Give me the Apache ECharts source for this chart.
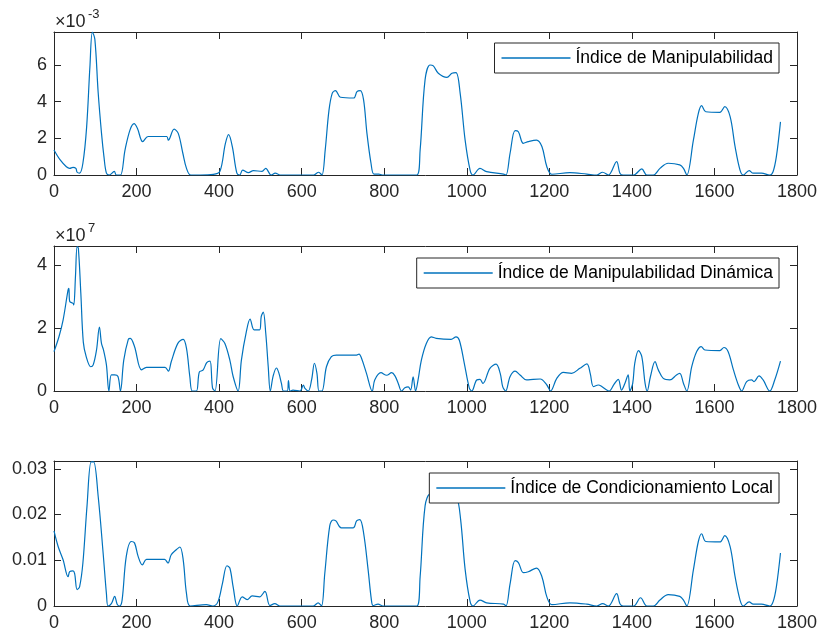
<!DOCTYPE html>
<html>
<head>
<meta charset="utf-8">
<script src="https://cdn.jsdelivr.net/npm/echarts@6/dist/echarts.min.js"></script>
<style>
html,body{margin:0;padding:0;background:#fff;}
#chart{width:822px;height:636px;}
</style>
</head>
<body>
<div id="chart"></div>
<script>
// ---- data ----
const xTicks = [0, 200, 400, 600, 800, 1000, 1200, 1400, 1600, 1800];
const seriesNames = ['Índice de Manipulabilidad', 'Índice de Manipulabilidad Dinámica', 'Índice de Condicionamiento Local'];
const exponentLabels = ['-3', '7', null];
const yTicks1 = [0, 2, 4, 6];
const yTicks2 = [0, 2, 4];
const yTicks3 = [0, 0.01, 0.02, 0.03];

// Índice de Manipulabilidad (values ×10^-3)
const manipData = [[0,1.36],[14,0.85],[30,0.45],[38,0.36],[46,0.42],[53,0.36],[56,0.15],[62,0.1],[70,0.64],[79,2.6],[87,5.9],[93,7.8],[99,7.4],[107,4.5],[115,2.3],[121,1.0],[127,0.1],[134,0],[146,0.2],[151,0],[161,0],[172,1.36],[184,2.45],[194,2.8],[202,2.55],[215,1.82],[228,2.1],[273,2.1],[277,1.9],[291,2.5],[301,2.27],[312,1.2],[321,0.36],[331,0],[354,0],[386,0.03],[402,0.2],[415,1.7],[423,2.2],[432,1.55],[443,0.1],[450,0],[457,0.27],[471,0.13],[483,0.24],[504,0.2],[513,0.36],[526,0],[536,0.1],[548,0],[629,0],[641,0.15],[649,0],[657,1.36],[666,3.5],[674,4.45],[682,4.6],[694,4.24],[726,4.2],[734,4.55],[742,4.6],[750,4.1],[758,2.3],[768,0.64],[775,0.05],[787,0.05],[795,0],[838,0],[879,0],[887,1.36],[899,5.2],[911,6.0],[919,5.95],[931,5.55],[952,5.33],[964,5.55],[974,5.58],[984,4.45],[996,1.9],[1008,0.27],[1015,0],[1032,0.36],[1048,0.18],[1089,0.05],[1095,0],[1105,1.2],[1117,2.42],[1125,2.36],[1137,1.73],[1149,1.82],[1169,1.9],[1182,1.55],[1194,0.45],[1206,0.04],[1250,0.13],[1291,0.05],[1315,0],[1329,0.15],[1343,0],[1363,0.73],[1371,0.1],[1379,0],[1404,0],[1424,0.33],[1436,0],[1452,0],[1468,0.36],[1488,0.64],[1516,0.55],[1525,0.36],[1533,0],[1549,1.9],[1561,3.36],[1569,3.78],[1579,3.45],[1613,3.42],[1625,3.73],[1638,3.18],[1650,1.55],[1662,0.27],[1670,0],[1684,0.24],[1694,0.1],[1714,0.1],[1734,0],[1742,0.18],[1750,1.0],[1760,2.9]];

// Índice de Manipulabilidad Dinámica (values ×10^7)
const dynData = [[0,1.25],[12,1.72],[22,2.25],[34,3.2],[36,3.26],[38,2.84],[46,2.78],[48,2.73],[52,3.63],[56,4.58],[59,4.53],[65,3.1],[71,1.55],[78,1.09],[89,0.77],[95,0.83],[103,1.3],[110,2.03],[115,1.51],[120,1.3],[127,0.83],[133,0],[139,0.51],[147,0.51],[155,0.46],[161,0],[169,0.98],[180,1.64],[185,1.67],[195,1.41],[212,0.67],[224,0.75],[269,0.75],[277,0.63],[284,0.93],[300,1.51],[313,1.64],[321,1.35],[329,0.46],[335,0],[345,0],[352,0.6],[361,0.66],[370,0.9],[378,0.95],[384,0.1],[390,0],[404,1.66],[414,1.51],[426,0.98],[434,0.46],[446,0],[454,0.98],[466,1.88],[475,2.28],[485,1.94],[498,1.94],[502,2.36],[507,2.5],[513,1.83],[519,0.77],[524,0],[531,0.48],[539,0.73],[545,0.56],[551,0.24],[556,0],[565,0],[568,0.33],[572,0],[579,0.03],[596,0],[604,0.19],[608,0.08],[616,0],[624,0.35],[631,0.88],[637,0.56],[642,0],[649,0],[660,0.77],[672,1.09],[684,1.14],[733,1.14],[739,1.17],[745,1.04],[757,0.56],[771,0],[777,0.35],[792,0.58],[806,0.5],[818,0.58],[826,0.48],[834,0.24],[842,0],[850,0.1],[858,0.13],[864,0.03],[870,0.45],[876,0],[882,0.35],[890,0.98],[902,1.51],[914,1.72],[926,1.67],[962,1.64],[974,1.72],[982,1.61],[994,0.88],[1006,0.1],[1012,0],[1024,0.35],[1032,0.37],[1039,0.24],[1056,0.72],[1071,0.85],[1081,0.56],[1087,0.14],[1094,0],[1105,0.46],[1117,0.63],[1129,0.51],[1145,0.35],[1161,0.37],[1178,0.38],[1194,0.19],[1203,0],[1218,0.4],[1234,0.59],[1254,0.56],[1274,0.72],[1291,0.86],[1299,0.56],[1307,0.14],[1319,0.19],[1327,0.14],[1339,0.03],[1345,0],[1357,0.22],[1367,0.37],[1375,0.03],[1383,0.24],[1391,0.51],[1395,0],[1402,0.24],[1407,0.88],[1416,1.28],[1424,1.09],[1432,0.24],[1437,0],[1445,0.46],[1456,0.93],[1464,0.67],[1476,0.4],[1492,0.35],[1508,0.51],[1516,0.56],[1525,0.24],[1533,0],[1545,0.77],[1557,1.25],[1568,1.41],[1577,1.3],[1613,1.28],[1623,1.38],[1633,1.25],[1646,0.67],[1658,0.19],[1666,0],[1678,0.3],[1690,0.35],[1696,0.3],[1708,0.48],[1718,0.35],[1734,0],[1746,0.35],[1760,0.95]];

// Índice de Condicionamiento Local
const condData = [[0,0.0164],[10,0.013],[22,0.0101],[34,0.0064],[38,0.0075],[46,0.0077],[50,0.0071],[56,0.0036],[62,0.0042],[70,0.0094],[80,0.0219],[90,0.0315],[96,0.0315],[107,0.024],[119,0.0116],[127,0.0027],[131,0],[139,0.0005],[147,0.0021],[153,0.0004],[159,0],[165,0.0013],[175,0.0108],[187,0.0141],[195,0.0138],[204,0.0108],[214,0.009],[224,0.0102],[268,0.0102],[276,0.0094],[284,0.0112],[296,0.0123],[305,0.0129],[313,0.0101],[321,0.0027],[330,0],[369,0.0003],[385,0],[397,0.0009],[408,0.0049],[419,0.0088],[426,0.0083],[434,0.0042],[444,0],[456,0.002],[468,0.0014],[480,0.0022],[498,0.002],[511,0.0032],[523,0.0001],[535,0.0005],[547,0],[628,0],[640,0.0007],[648,0],[656,0.0071],[668,0.0175],[676,0.0188],[683,0.0186],[696,0.0171],[725,0.0171],[733,0.0186],[741,0.0189],[750,0.016],[761,0.0079],[769,0.0013],[773,0.0001],[785,0.0004],[797,0],[879,0],[887,0.0064],[899,0.0219],[912,0.0245],[932,0.0235],[952,0.0228],[968,0.0236],[976,0.0235],[985,0.019],[996,0.008],[1008,0.001],[1015,0],[1032,0.0013],[1048,0.0007],[1089,0.0004],[1095,0],[1105,0.0049],[1117,0.0099],[1125,0.0095],[1137,0.0073],[1149,0.0075],[1169,0.0083],[1182,0.0064],[1194,0.002],[1206,0.0003],[1250,0.0007],[1291,0.0004],[1315,0],[1329,0.0005],[1343,0],[1363,0.0027],[1371,0.0005],[1379,0],[1404,0],[1421,0.0018],[1436,0],[1452,0],[1468,0.0013],[1488,0.0025],[1516,0.0021],[1525,0.0013],[1533,0],[1549,0.0079],[1561,0.0141],[1569,0.0158],[1579,0.0141],[1613,0.014],[1625,0.0154],[1638,0.013],[1650,0.0064],[1662,0.0013],[1670,0],[1684,0.0009],[1694,0.0004],[1714,0.0004],[1734,0],[1742,0.0009],[1750,0.0042],[1760,0.0116]];

const yMax = [7.8, 4.6, 0.0317];
const yTickSets = [yTicks1, yTicks2, yTicks3];
const allData = [manipData, dynData, condData];

// ---- layout / style ----
const FONT = '"Liberation Sans", Arial, Helvetica, sans-serif';
const AX = '#262626';
const LINE = '#0072BD';
const grids = [
  {left: 54, right: 25, top: 32, height: 143},
  {left: 54, right: 25, top: 246, height: 145},
  {left: 54, right: 25, top: 461, height: 145}
];
const legendTops = [43, 258, 473];

const xAxes = [], yAxes = [], series = [], legends = [], graphics = [];
grids.forEach((g, i) => {
  const common = {
    gridIndex: i, type: 'value', min: 0, max: 1800, interval: 200,
    axisLine: {show: true, onZero: false, lineStyle: {color: AX, width: 1}},
    axisTick: {show: true, inside: true, length: 7, lineStyle: {color: AX}, customValues: xTicks},
    splitLine: {show: false}
  };
  xAxes.push(Object.assign({}, common, {
    position: 'bottom',
    axisLabel: {show: true, fontSize: 18, color: AX, fontFamily: FONT, margin: 8,
      customValues: xTicks, formatter: v => String(v)}
  }));
  xAxes.push(Object.assign({}, common, {position: 'top', axisLabel: {show: false}}));
  const ticks = yTickSets[i];
  const fmt = v => (v === 0 ? '0' : (v < 1 ? v.toFixed(2) : String(v)));
  const yc = {
    gridIndex: i, type: 'value', min: 0, max: yMax[i],
    axisLine: {show: true, onZero: false, lineStyle: {color: AX, width: 1}},
    axisTick: {show: true, inside: true, length: 7, lineStyle: {color: AX}, customValues: ticks},
    splitLine: {show: false}
  };
  yAxes.push(Object.assign({}, yc, {position: 'left',
    axisLabel: {show: true, fontSize: 18, color: AX, fontFamily: FONT, margin: 7, formatter: fmt, customValues: ticks}}));
  yAxes.push(Object.assign({}, yc, {position: 'right', axisLabel: {show: false}}));

  series.push({
    name: seriesNames[i], type: 'line', xAxisIndex: i * 2, yAxisIndex: i * 2,
    data: allData[i], showSymbol: false, symbol: 'none', smooth: 0.35,
    lineStyle: {color: LINE, width: 1.2}, itemStyle: {color: LINE}, clip: true
  });
  legends.push({
    data: [{name: seriesNames[i], icon: 'rect'}], right: 43, top: legendTops[i], orient: 'horizontal',
    backgroundColor: '#fff', borderColor: AX, borderWidth: 1, borderRadius: 0,
    padding: [6, 6, 6, 7], itemWidth: 69, itemHeight: 1.3,
    itemStyle: {color: LINE},
    textStyle: {fontSize: 17.5, color: '#000', fontFamily: FONT, lineHeight: 16},
    selectedMode: false, z: 10
  });
  if (exponentLabels[i]) {
    graphics.push({type: 'text', left: 55, top: g.top - 19,
      style: {text: '×10', fontSize: 18, fill: AX, fontFamily: FONT}});
    graphics.push({type: 'text', left: 88, top: g.top - 24,
      style: {text: exponentLabels[i], fontSize: 13, fill: AX, fontFamily: FONT}});
  }
});

const chart = echarts.init(document.getElementById('chart'), null, {renderer: 'canvas'});
chart.setOption({
  animation: false,
  backgroundColor: '#fff',
  grid: grids,
  xAxis: xAxes,
  yAxis: yAxes,
  legend: legends,
  series: series,
  graphic: graphics
});
</script>
</body>
</html>
